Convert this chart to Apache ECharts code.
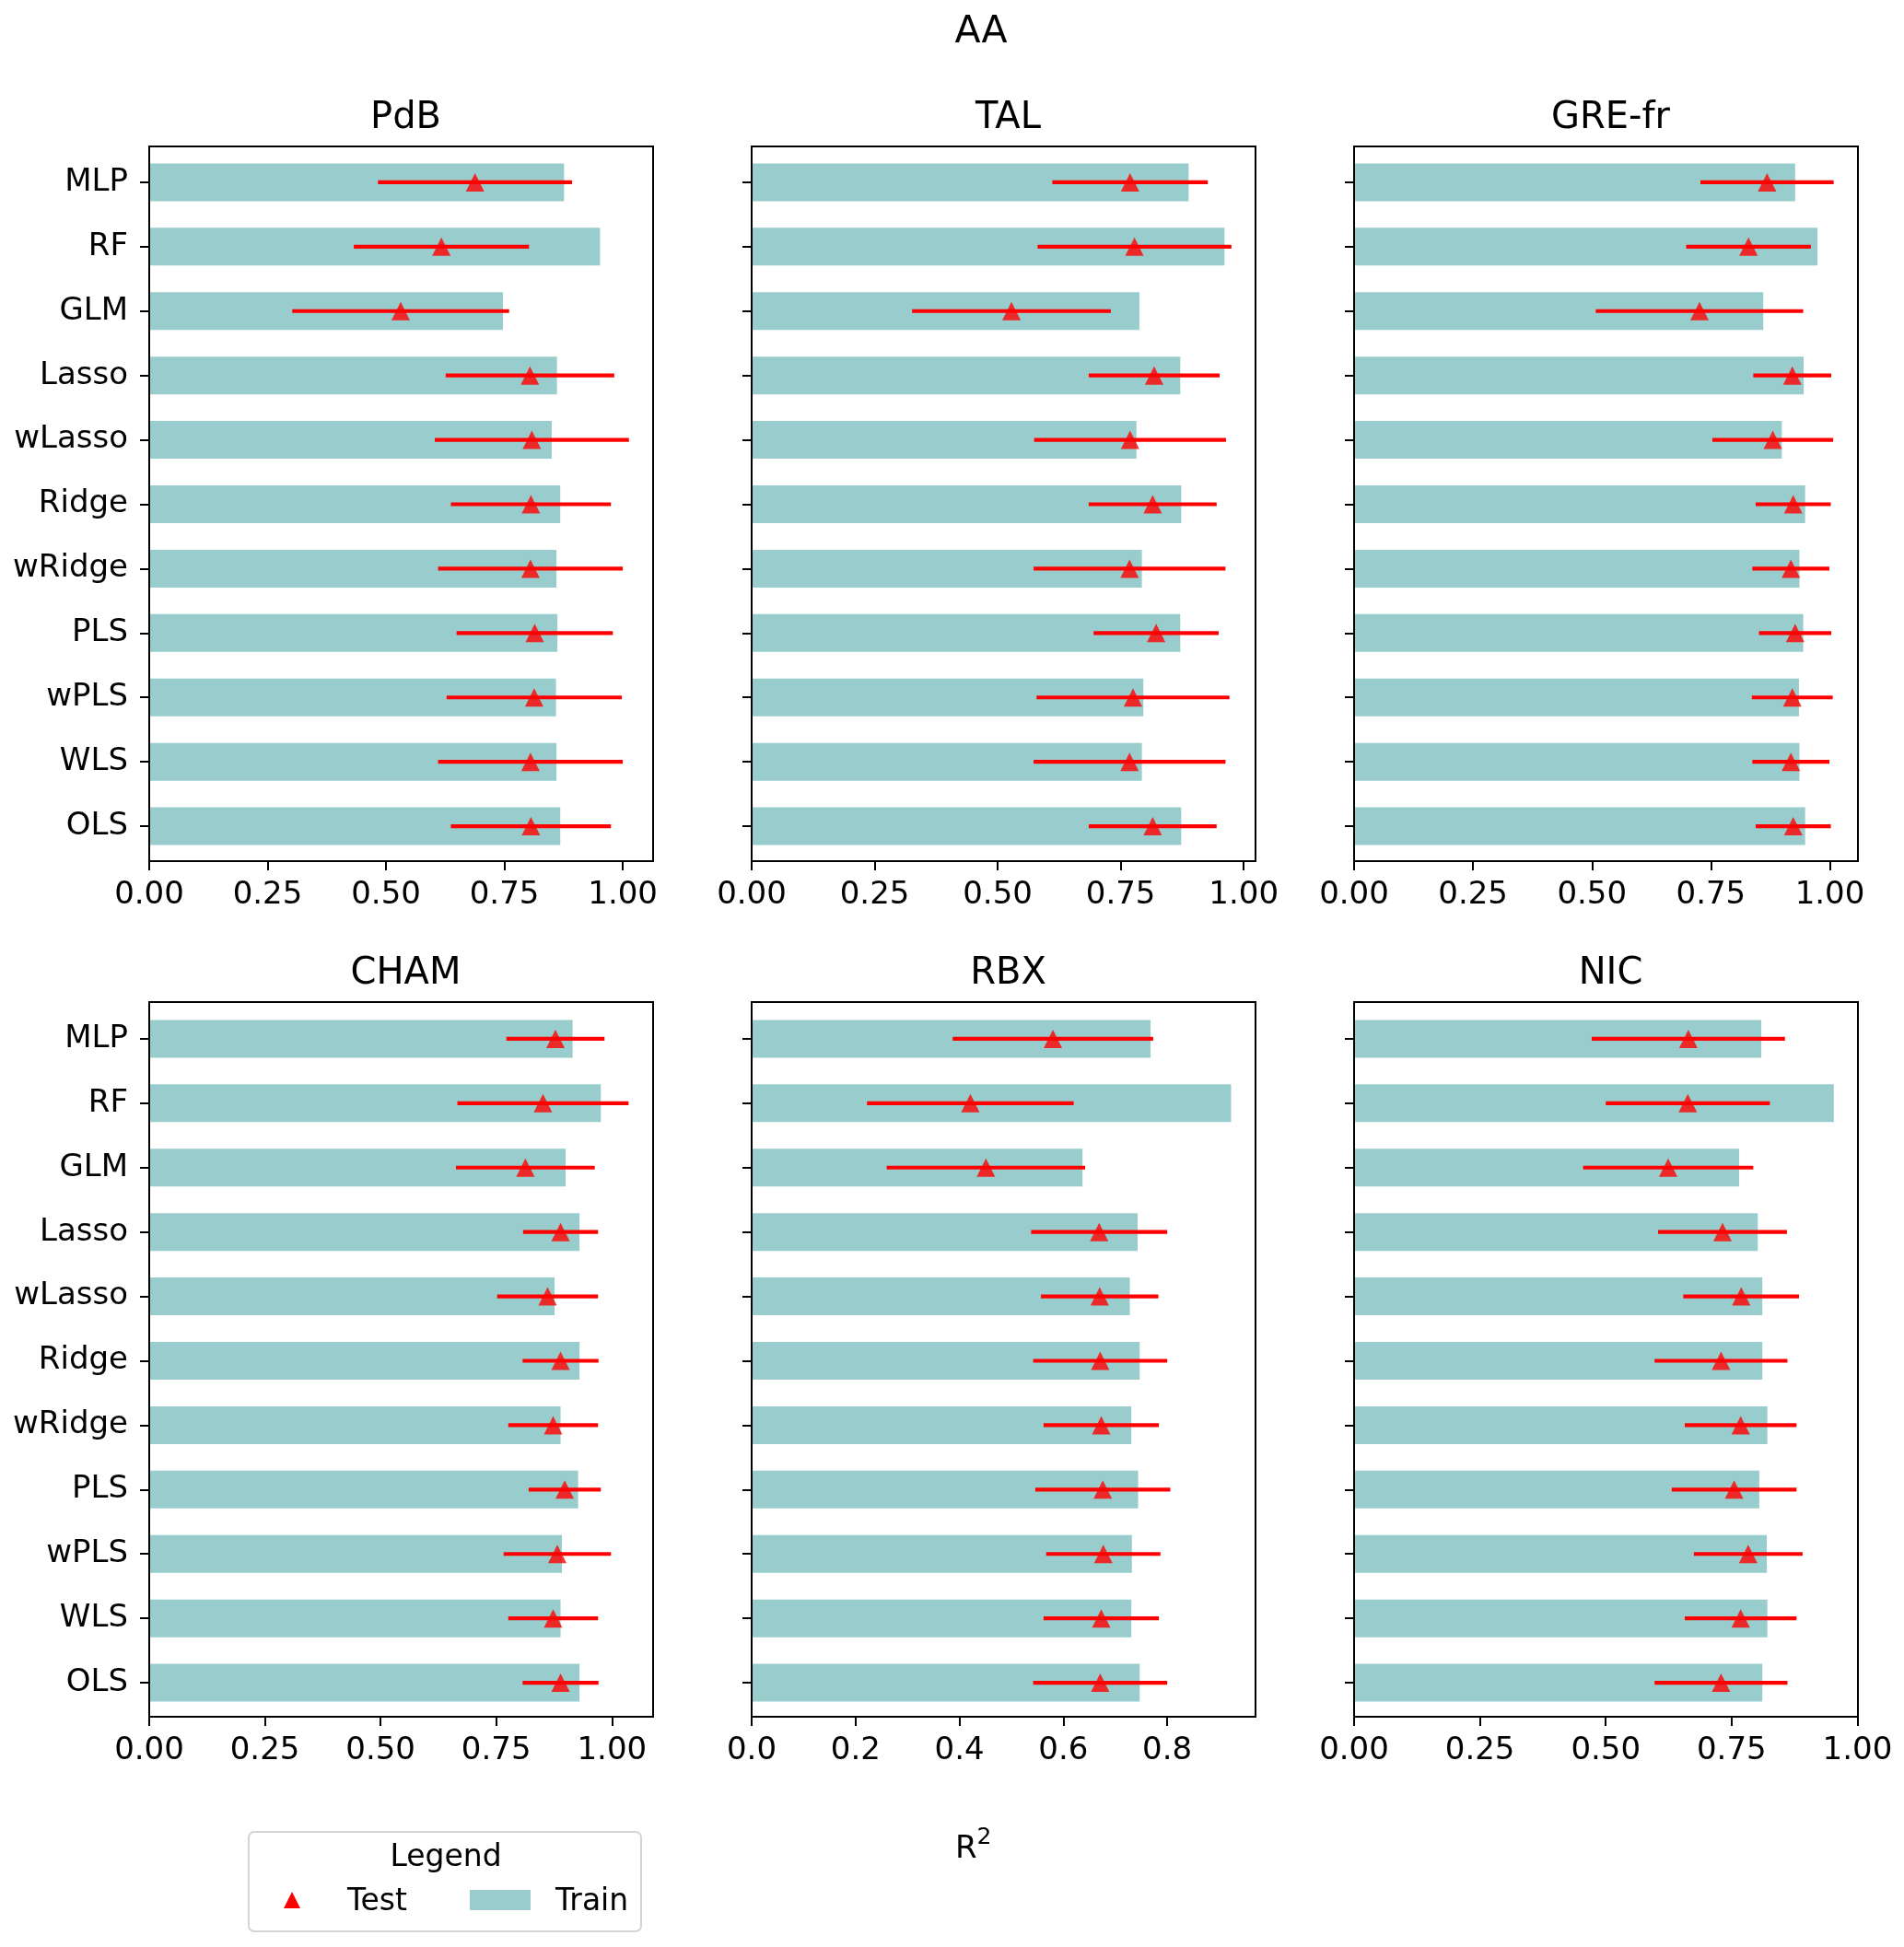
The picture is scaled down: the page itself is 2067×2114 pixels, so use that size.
<!DOCTYPE html>
<html>
<head>
<meta charset="utf-8">
<script src="https://cdn.jsdelivr.net/npm/echarts@6/dist/echarts.min.js"></script>
<style>
html,body{margin:0;padding:0;background:#fff;}
#chart{width:2067px;height:2114px;}
</style>
</head>
<body>
<div id="chart"></div>
<script>
// ---------- data ----------
const categories = ['MLP','RF','GLM','Lasso','wLasso','Ridge','wRidge','PLS','wPLS','WLS','OLS'];
const panelNames = ['PdB','TAL','GRE-fr','CHAM','RBX','NIC'];

const trainPdB = [0.876,0.952,0.747,0.861,0.850,0.868,0.860,0.862,0.859,0.860,0.868];
const testPdB  = [0.688,0.617,0.531,0.804,0.808,0.806,0.805,0.814,0.813,0.805,0.806];
const stdPdB   = [0.205,0.185,0.229,0.178,0.205,0.169,0.195,0.165,0.185,0.195,0.169];

const trainTAL = [0.888,0.961,0.788,0.871,0.782,0.873,0.793,0.871,0.796,0.793,0.873];
const testTAL  = [0.769,0.778,0.528,0.818,0.769,0.815,0.768,0.822,0.775,0.768,0.815];
const stdTAL   = [0.158,0.197,0.202,0.133,0.195,0.130,0.195,0.127,0.196,0.195,0.130];

const trainGRE = [0.927,0.974,0.860,0.945,0.899,0.948,0.936,0.944,0.935,0.936,0.948];
const testGRE  = [0.868,0.829,0.726,0.921,0.880,0.923,0.918,0.927,0.921,0.918,0.923];
const stdGRE   = [0.140,0.131,0.218,0.082,0.127,0.079,0.081,0.076,0.085,0.081,0.079];

const trainCHAM = [0.915,0.976,0.900,0.930,0.876,0.930,0.889,0.927,0.892,0.889,0.930];
const testCHAM  = [0.878,0.851,0.813,0.889,0.861,0.889,0.873,0.898,0.882,0.873,0.889];
const stdCHAM   = [0.106,0.185,0.150,0.081,0.109,0.082,0.097,0.078,0.116,0.097,0.082];

const trainRBX = [0.768,0.923,0.637,0.743,0.728,0.747,0.731,0.744,0.732,0.731,0.747];
const testRBX  = [0.580,0.421,0.451,0.669,0.670,0.671,0.673,0.676,0.677,0.673,0.671];
const stdRBX   = [0.193,0.199,0.191,0.131,0.113,0.129,0.111,0.130,0.110,0.111,0.129];

const trainNIC = [0.809,0.953,0.765,0.802,0.811,0.811,0.821,0.805,0.820,0.821,0.811];
const testNIC  = [0.664,0.663,0.624,0.732,0.769,0.729,0.768,0.755,0.783,0.768,0.729];
const stdNIC   = [0.192,0.163,0.169,0.128,0.115,0.132,0.111,0.124,0.108,0.111,0.132];

const ticksQuarter = [0, 0.25, 0.5, 0.75, 1.0];
const ticksFifth   = [0, 0.2, 0.4, 0.6, 0.8];
const xLimits = [1.064, 1.024, 1.059, 1.089, 0.970, 1.001];

const panels = [
  {name: panelNames[0], train: trainPdB, test: testPdB, std: stdPdB, ticks: ticksQuarter, dec: 2},
  {name: panelNames[1], train: trainTAL, test: testTAL, std: stdTAL, ticks: ticksQuarter, dec: 2},
  {name: panelNames[2], train: trainGRE, test: testGRE, std: stdGRE, ticks: ticksQuarter, dec: 2},
  {name: panelNames[3], train: trainCHAM, test: testCHAM, std: stdCHAM, ticks: ticksQuarter, dec: 2},
  {name: panelNames[4], train: trainRBX, test: testRBX, std: stdRBX, ticks: ticksFifth, dec: 1},
  {name: panelNames[5], train: trainNIC, test: testNIC, std: stdNIC, ticks: ticksQuarter, dec: 2}
];

// ---------- layout ----------
const FONT = 'DejaVu Sans';
const colLeft = [162, 816, 1470];
const frameTop = [159, 1088];      // axes frame (spines)
const FW = 547, FH = 776;
const dataTop = [163, 1093];       // category band area
const DH = 769;
const TEAL = '#99cccc';
const RED = '#ff0000';

const grids = [], xAxes = [], yAxes = [], series = [], titles = [];

titles.push({text: 'AA', left: 1060, top: 10, textAlign: 'center',
  textStyle: {fontFamily: FONT, fontSize: 41, fontWeight: 'normal', color: '#000'}});

panels.forEach((p, i) => {
  const r = Math.floor(i / 3), c = i % 3;
  const xOff = (frameTop[r] + FH) - (dataTop[r] + DH);
  grids.push({left: colLeft[c], top: dataTop[r], width: FW, height: DH, show: false});
  titles.push({text: p.name, left: colLeft[c] + FW / 2, top: frameTop[r] - 55, textAlign: 'center',
    textStyle: {fontFamily: FONT, fontSize: 40, fontWeight: 'normal', color: '#000'}});
  xAxes.push({type: 'value', gridIndex: i, min: 0, max: xLimits[i],
    interval: p.ticks[1], offset: xOff,
    splitLine: {show: false},
    axisLine: {show: false},
    axisTick: {show: true, length: 10, lineStyle: {color: '#000', width: 2}, customValues: p.ticks},
    axisLabel: {show: true, customValues: p.ticks, fontFamily: FONT, fontSize: 34, color: '#000', margin: 20,
      formatter: v => {
        const ok = p.ticks.some(t => Math.abs(t - v) < 1e-9);
        return ok ? Number(v).toFixed(p.dec) : '';
      }}
  });
  yAxes.push({type: 'category', gridIndex: i, data: categories, inverse: true,
    axisLine: {show: false},
    axisTick: {show: true, alignWithLabel: true, length: 10, lineStyle: {color: '#000', width: 2}},
    axisLabel: {show: c === 0, fontFamily: FONT, fontSize: 34, color: '#000', margin: 23},
    splitLine: {show: false}
  });
  series.push({type: 'bar', name: 'Train', xAxisIndex: i, yAxisIndex: i,
    data: p.train, barWidth: 41, itemStyle: {color: TEAL}, silent: true, z: 2});
  series.push({type: 'custom', name: 'TestErr', xAxisIndex: i, yAxisIndex: i,
    data: p.test.map((m, k) => [m - p.std[k], m + p.std[k], k]),
    encode: {x: [0, 1], y: 2},
    renderItem: (params, api) => {
      const a = api.coord([api.value(0), api.value(2)]);
      const b = api.coord([api.value(1), api.value(2)]);
      return {type: 'line', shape: {x1: a[0], y1: a[1], x2: b[0], y2: b[1]},
        style: {stroke: RED, lineWidth: 4.2}};
    }, z: 3, silent: true});
  series.push({type: 'scatter', name: 'Test', xAxisIndex: i, yAxisIndex: i,
    data: p.test.map((m, k) => [m, k]),
    symbol: 'triangle', symbolSize: 20, itemStyle: {color: RED}, z: 4, silent: true});
});

// frame grids (spines), one per panel, with hidden axes
panels.forEach((p, i) => {
  const r = Math.floor(i / 3), c = i % 3;
  const gi = grids.length;
  grids.push({left: colLeft[c], top: frameTop[r], width: FW, height: FH,
    show: true, borderColor: '#000', borderWidth: 2, backgroundColor: 'transparent', z: 5});
  xAxes.push({type: 'value', gridIndex: gi, show: false, min: 0, max: 1});
  yAxes.push({type: 'value', gridIndex: gi, show: false, min: 0, max: 1});
});

// ---------- legend & supxlabel ----------
const graphic = [
  {type: 'text', left: 1037, top: 1983,
    style: {text: '{r|R}{s|2}', fill: '#000',
      rich: {r: {fontFamily: FONT, fontSize: 34, lineHeight: 42, verticalAlign: 'bottom'},
             s: {fontFamily: FONT, fontSize: 25, lineHeight: 42, verticalAlign: 'top'}}}},
  {type: 'rect', shape: {x: 270, y: 1989, width: 426, height: 108, r: 6},
    style: {fill: 'rgba(255,255,255,0.8)', stroke: '#d4d4d4', lineWidth: 2}},
  {type: 'text', x: 484, y: 2017,
    style: {text: 'Legend', fontFamily: FONT, fontSize: 33, fill: '#000', align: 'center', verticalAlign: 'middle'}},
  {type: 'polygon', shape: {points: [[317, 2054], [308, 2072], [326, 2072]]},
    style: {fill: RED}},
  {type: 'text', x: 377, y: 2065,
    style: {text: 'Test', fontFamily: FONT, fontSize: 33, fill: '#000', align: 'left', verticalAlign: 'middle'}},
  {type: 'rect', shape: {x: 510, y: 2052, width: 66, height: 22},
    style: {fill: TEAL}},
  {type: 'text', x: 603, y: 2065,
    style: {text: 'Train', fontFamily: FONT, fontSize: 33, fill: '#000', align: 'left', verticalAlign: 'middle'}}
];

const chart = echarts.init(document.getElementById('chart'), null, {renderer: 'canvas'});
chart.setOption({
  animation: false,
  backgroundColor: '#fff',
  textStyle: {fontFamily: FONT},
  title: titles,
  grid: grids,
  xAxis: xAxes,
  yAxis: yAxes,
  series: series,
  graphic: graphic
});
</script>
</body>
</html>
